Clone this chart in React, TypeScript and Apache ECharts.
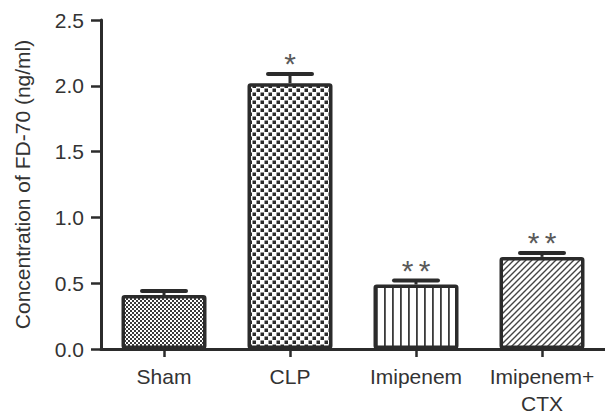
import React, { useEffect, useRef } from "react";
import * as echarts from "echarts";

const categories = ["Sham", "CLP", "Imipenem", "Imipenem+\nCTX"];
const means = [0.41, 2.02, 0.49, 0.7];
const errors = [0.03, 0.07, 0.03, 0.03];
const significance = ["", "*", "**", "**"];
const yMin = 0;
const yMax = 2.5;
const yInterval = 0.5;

const INK = "#2b2b2b";
const FONT = "'Liberation Sans', Arial, Helvetica, sans-serif";

function makeCanvas(w: number, h: number, draw: (ctx: CanvasRenderingContext2D) => void) {
  const c = document.createElement("canvas");
  c.width = w;
  c.height = h;
  const ctx = c.getContext("2d")!;
  ctx.fillStyle = "#ffffff";
  ctx.fillRect(0, 0, w, h);
  draw(ctx);
  return c;
}

function patterns() {
  const fine = makeCanvas(4, 4, (ctx) => {
    ctx.fillStyle = "#3a3a3a";
    ctx.fillRect(0, 0, 2, 2);
    ctx.fillRect(2, 2, 2, 2);
  });
  const coarse = makeCanvas(8, 8, (ctx) => {
    ctx.fillStyle = "#2b2b2b";
    ctx.fillRect(0.5, 0.5, 3.5, 3.5);
    ctx.fillRect(4.5, 4.5, 3.5, 3.5);
  });
  const vertical = makeCanvas(8, 8, (ctx) => {
    ctx.fillStyle = "#3a3a3a";
    ctx.fillRect(0, 0, 1.8, 8);
  });
  const diagonal = makeCanvas(6, 6, (ctx) => {
    ctx.strokeStyle = "#444444";
    ctx.lineWidth = 1.4;
    ctx.beginPath();
    ctx.moveTo(-1, 7);
    ctx.lineTo(7, -1);
    ctx.moveTo(-4, 4);
    ctx.lineTo(4, -4);
    ctx.moveTo(2, 10);
    ctx.lineTo(10, 2);
    ctx.stroke();
  });
  return [fine, coarse, vertical, diagonal];
}

export default function App() {
  const ref = useRef<HTMLDivElement>(null);

  useEffect(() => {
    if (!ref.current) return;
    const chart = echarts.init(ref.current, undefined, { renderer: "svg" });
    const pats = patterns();

    const option: any = {
      animation: false,
      backgroundColor: "#ffffff",
      grid: { left: 101, top: 20, width: 506, bottom: 63, containLabel: false },
      xAxis: {
        type: "category",
        data: categories,
        axisLine: { show: true, lineStyle: { color: INK, width: 3 } },
        axisTick: { show: true, alignWithLabel: true, length: 8, lineStyle: { color: INK, width: 2.5 } },
        axisLabel: {
          color: "#333333",
          fontSize: 21,
          fontFamily: FONT,
          margin: 14,
          lineHeight: 27,
          interval: 0,
        },
        splitLine: { show: false },
      },
      yAxis: {
        type: "value",
        min: yMin,
        max: yMax,
        interval: yInterval,
        name: "Concentration of FD-70 (ng/ml)",
        nameLocation: "middle",
        nameGap: 68,
        nameTextStyle: { color: "#333333", fontSize: 21, fontFamily: FONT },
        axisLine: { show: true, lineStyle: { color: INK, width: 3 } },
        axisTick: { show: true, length: 10, lineStyle: { color: INK, width: 2.5 } },
        axisLabel: {
          color: "#333333",
          fontSize: 21,
          fontFamily: FONT,
          margin: 17,
          formatter: (v: number) => v.toFixed(1),
        },
        splitLine: { show: false },
      },
      series: [
        {
          type: "bar",
          barWidth: 85,
          data: means.map((m, i) => ({
            value: m,
            itemStyle: {
              color: { image: pats[i], repeat: "repeat" },
              borderColor: INK,
              borderWidth: 3.5,
              borderRadius: 1.5,
            },
          })),
          z: 2,
        },
        {
          type: "custom",
          z: 4,
          data: means.map((m, i) => [i, m, errors[i]]),
          renderItem: (params: any, api: any) => {
            const i = api.value(0);
            const m = api.value(1);
            const e = api.value(2);
            const top = api.coord([i, m]);
            const hi = api.coord([i, m + e]);
            const star = significance[params.dataIndex];
            const children: any[] = [
              {
                type: "line",
                shape: { x1: top[0], y1: top[1], x2: hi[0], y2: hi[1] },
                style: { stroke: INK, lineWidth: 3 },
              },
              {
                type: "line",
                shape: { x1: hi[0] - 22, y1: hi[1], x2: hi[0] + 22, y2: hi[1] },
                style: { stroke: INK, lineWidth: 4, lineCap: "round" },
              },
            ];
            const n = star.length;
            for (let k = 0; k < n; k++) {
              const dx = (k - (n - 1) / 2) * 17;
              children.push({
                type: "text",
                x: hi[0] + dx,
                y: hi[1] - 10,
                style: {
                  text: "*",
                  fill: "#5a5a5a",
                  font: `30px ${FONT}`,
                  align: "center",
                  verticalAlign: "middle",
                },
              });
            }
            return { type: "group", children };
          },
        },
      ],
    };

    chart.setOption(option);
    return () => chart.dispose();
  }, []);

  return (
    <div
      ref={ref}
      style={{ position: "fixed", left: 0, top: 0, width: 605, height: 417, background: "#fff" }}
    />
  );
}
